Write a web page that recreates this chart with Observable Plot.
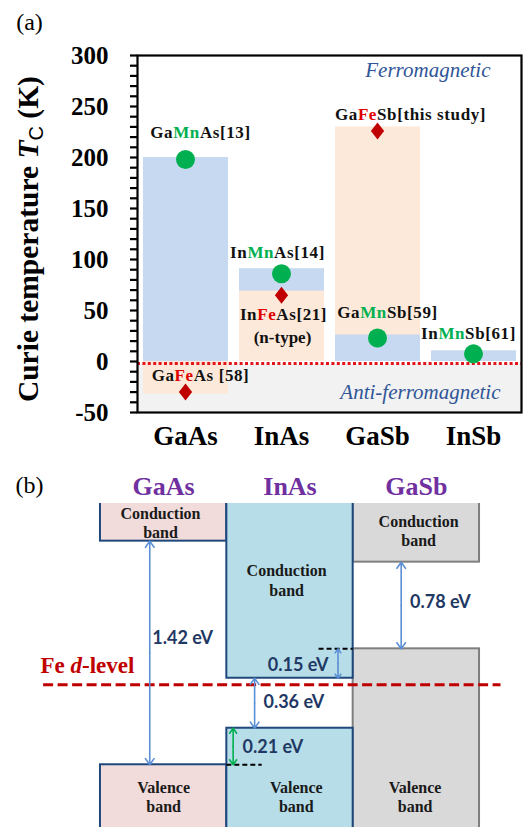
<!DOCTYPE html>
<html><head><meta charset="utf-8">
<script src="https://cdn.jsdelivr.net/npm/d3@7"></script>
<script src="https://cdn.jsdelivr.net/npm/@observablehq/plot@0.6"></script>
<style>
body{margin:0;background:#fff;}
#wrap{position:relative;width:527px;height:827px;overflow:hidden;background:#fff;}
#a,#b{position:absolute;left:0;}
#a{top:0px;} #b{top:470px;}
svg{display:block;}
</style></head><body><div id="wrap"><div id="a"></div><div id="b"></div></div>
<script>
// ---------------- Panel (a) data ----------------
const hosts = ["GaAs", "InAs", "GaSb", "InSb"];
const yTicksMajor = [-50, 0, 50, 100, 150, 200, 250, 300];
const yTicksMinor = [-50,-40,-30,-20,-10,0,10,20,30,40,50,60,70,80,90,100,110,120,130,140,150,160,170,180,190,200,210,220,230,240,250,260,270,280,290,300];

// Mn-doped (blue bars, green circles)
const mnHost = ["GaAs", "InAs", "GaSb", "InSb"];
const mnBarTc = [200, 91, 26, 10.5];
const mnPointTc = [198, 86, 23, 7.5];
// Fe-doped (orange bars, red diamonds)
const feHost = ["GaAs", "InAs", "GaSb"];
const feBarTc = [-32, 69, 230];
const fePointTc = [-30, 65, 226];

// annotations
const labelText = ["GaMnAs[13]", "InMnAs[14]", "GaMnSb[59]", "InMnSb[61]", "GaFeAs [58]", "InFeAs[21]", "(n-type)", "GaFeSb[this study]"];
const labelHost = ["GaAs", "InAs", "GaSb", "InSb", "GaAs", "InAs", "InAs", "GaSb"];
const labelTc   = [224, 107, 48, 27, -14, 46, 23, 242];
const labelDx   = [15, -4, 10, -5, 15, 2, 1, 33];

const afmRange = [-50, -3];     // anti-ferromagnetic shaded region
const boundaryTc = -2;          // red dotted boundary
const yTitleTc = 120;           // vertical centre of the y-axis title

// ---------------- Panel (b) data ----------------
const semis = ["GaAs", "InAs", "GaSb"];
const colStart = [0, 1, 2];
const colEnd = [1, 2, 3];
const cbm = [1.026, 0.047, 0.876];    // conduction band minimum (diagram units, Fe d-level = 0)
const vbm = [-0.571, -0.31, 0.257];   // valence band maximum
const feLevel = 0;
const feSpan = [-0.45, 3.17];

const gapLabel = ["1.42 eV", "0.78 eV", "0.15 eV", "0.36 eV", "0.21 eV"];
const gapX  = [0.39, 2.38, 1.88, 1.22, 1.05];
const gapLo = [-0.571, 0.257, 0.047, -0.31, -0.571];
const gapHi = [1.026, 0.876, 0.257, 0.047, -0.31];
const gapKind = ["blue", "blue", "blue", "blue", "green"];
const gapLabelX = [0.41, 2.45, 1.805, 1.29, 1.124];
const gapLabelY = [0.33, 0.59, 0.138, -0.124, -0.446];
const gapLabelAnchor = ["start", "start", "end", "start", "start"];

const refDashY = [0.257, -0.571];
const refDashX1 = [1.73, 1.0];
const refDashX2 = [2.0, 1.28];

const cbLabelX = [0.475, 1.473, 2.518];
const cbLabelY = [1.159, 0.749, 1.106];
const vbLabelX = [0.5, 1.55, 2.49];
const vbLabelY = [-0.798, -0.798, -0.798];

// ---------------- styles ----------------
const serif = "'Liberation Serif','Times New Roman',serif";
const barFill = {Mn: "#c6d9f0", Fe: "#fde9d9"};
const bandFill = {GaAs: "#f2dcdb", InAs: "#b7dee8", GaSb: "#d9d9d9"};
const bandStroke = {GaAs: "#1f497d", InAs: "#1f497d", GaSb: "#7f7f7f"};
const arrowColor = {blue: "#5b8fd6", green: "#00b050"};

const tallDiamond = {
  draw(ctx, size) {
    const r = Math.sqrt(size / Math.PI), w = r * 0.78;
    ctx.moveTo(0, -r); ctx.lineTo(w, 0); ctx.lineTo(0, r); ctx.lineTo(-w, 0); ctx.closePath();
  }
};

// ---------------- Panel (a) ----------------
const bars = [
  ...mnHost.map((h, i) => ({host: h, tc: mnBarTc[i], kind: "Mn"})),
  ...feHost.map((h, i) => ({host: h, tc: feBarTc[i], kind: "Fe"}))
].sort((a, b) => Math.abs(b.tc) - Math.abs(a.tc));
const mnPts = mnHost.map((h, i) => ({host: h, tc: mnPointTc[i]}));
const fePts = feHost.map((h, i) => ({host: h, tc: fePointTc[i]}));
const labels = labelText.map((t, i) => ({text: t, host: labelHost[i], tc: labelTc[i], dx: labelDx[i]}));

const plotA = Plot.plot({
  width: 527, height: 460,
  marginTop: 55, marginBottom: 48, marginLeft: 137, marginRight: 6,
  x: {type: "band", domain: hosts, padding: 0, axis: null},
  y: {domain: [-50, 300], axis: null},
  style: {fontFamily: serif, background: "white", overflow: "visible"},
  marks: [
    Plot.rect([afmRange], {y1: d => d[0], y2: d => d[1], fill: "#f2f2f2"}),
    Plot.rectY(bars, {x: "host", y1: 0, y2: "tc", fill: d => barFill[d.kind], insetLeft: 6, insetRight: 5}),
    Plot.ruleY([boundaryTc], {stroke: "#e3151a", strokeWidth: 3, strokeDasharray: "3,2.4"}),
    Plot.dot(mnPts, {x: "host", y: "tc", r: 9.5, fill: "#00b050", stroke: "none"}),
    Plot.dot(fePts, {x: "host", y: "tc", r: 8.5, symbol: tallDiamond, fill: "#c00000", stroke: "none"}),
    ...labels.map(l => Plot.text([l], {x: "host", y: "tc", text: "text", dx: l.dx, fontSize: 17, fontWeight: "bold", fill: "#111"})),
    Plot.text(["Ferromagnetic"], {frameAnchor: "top-right", textAnchor: "end", lineAnchor: "middle", dx: -31, dy: 15, fontSize: 21, fontStyle: "italic", fill: "#2f5597"}),
    Plot.text(["Anti-ferromagnetic"], {frameAnchor: "bottom-right", textAnchor: "end", lineAnchor: "middle", dx: -21, dy: -20, fontSize: 21, fontStyle: "italic", fill: "#2f5597"}),
    Plot.frame({stroke: "black", strokeWidth: 2.2}),
    Plot.axisY({ticks: yTicksMinor, tickSize: 7, tickFormat: () => "", label: null, strokeWidth: 2.2, stroke: "black"}),
    Plot.text(yTicksMajor, {y: d => d, text: d => String(d), frameAnchor: "left", textAnchor: "end", dx: -29, fontSize: 25, fontWeight: "bold", fill: "black"}),
    Plot.text(hosts, {x: d => d, text: d => d, frameAnchor: "bottom", lineAnchor: "middle", dy: 24, fontSize: 27, fontWeight: "bold", fill: "black"}),
    Plot.text(["Curie temperature TC (K)"], {y: yTitleTc, frameAnchor: "left", textAnchor: "middle", lineAnchor: "middle", rotate: -90, dx: -109, fontSize: 29.5, fontWeight: "bold", fill: "black"}),
    Plot.text(["(a)"], {frameAnchor: "top-left", textAnchor: "middle", lineAnchor: "middle", dx: 29 - 137, dy: 22 - 55, fontSize: 24, fill: "black"})
  ]
});
document.getElementById("a").appendChild(plotA);

// ---------------- Panel (b) ----------------
const cbRects = semis.map((s, i) => ({s, x1: colStart[i], x2: colEnd[i], y1: cbm[i], y2: 2}));
const vbRects = semis.map((s, i) => ({s, x1: colStart[i], x2: colEnd[i], y1: -2, y2: vbm[i]}));
const order = ["GaAs", "GaSb", "InAs"];
const rectsOrdered = order.flatMap(s => [cbRects.find(d => d.s === s), vbRects.find(d => d.s === s)]);
const gaps = gapLabel.map((t, i) => ({t, x: gapX[i], lo: gapLo[i], hi: gapHi[i], mid: (gapLo[i] + gapHi[i]) / 2, kind: gapKind[i], lx: gapLabelX[i], ly: gapLabelY[i], anchor: gapLabelAnchor[i]}));
const dashes = refDashY.map((y, i) => ({y, x1: refDashX1[i], x2: refDashX2[i]}));

const plotB = Plot.plot({
  width: 527, height: 357,
  marginTop: 33, marginBottom: 0, marginLeft: 74.7, marginRight: 22.7,
  x: {domain: [-0.2, 3.2], axis: null},
  y: {domain: [-1.019, 1.295], axis: null},
  style: {fontFamily: serif, background: "white", overflow: "visible"},
  marks: [
    Plot.rect(rectsOrdered, {x1: "x1", x2: "x2", y1: "y1", y2: "y2", fill: d => bandFill[d.s], stroke: d => bandStroke[d.s], strokeWidth: 2, clip: true}),
    Plot.ruleY([feLevel], {x1: feSpan[0], x2: feSpan[1], stroke: "#c00000", strokeWidth: 3, strokeDasharray: "10,4.5"}),
    Plot.ruleY(dashes, {y: "y", x1: "x1", x2: "x2", stroke: "black", strokeWidth: 2, strokeDasharray: "5,3"}),
    Plot.arrow(gaps, {x1: "x", x2: "x", y1: "mid", y2: "hi", stroke: d => arrowColor[d.kind], strokeWidth: 1.6, headLength: 7, headAngle: 70}),
    Plot.arrow(gaps, {x1: "x", x2: "x", y1: "mid", y2: "lo", stroke: d => arrowColor[d.kind], strokeWidth: 1.6, headLength: 7, headAngle: 70}),
    ...gaps.map(g => Plot.text([g], {x: "lx", y: "ly", text: "t", textAnchor: g.anchor, fontFamily: "Lato, 'Open Sans', sans-serif", fontWeight: "bold", fontSize: 18, fill: "#1f3864"})),
    Plot.text(semis, {x: (d, i) => colStart[i] + 0.5, text: d => d, frameAnchor: "top", lineAnchor: "middle", dy: -17, fontSize: 26, fontWeight: "bold", fill: "#7030a0"}),
    Plot.text(semis, {x: (d, i) => cbLabelX[i], y: (d, i) => cbLabelY[i], text: () => "Conduction\nband", lineHeight: 1.2, fontSize: 16, fontWeight: "bold", fill: "#1a1a1a"}),
    Plot.text(semis, {x: (d, i) => vbLabelX[i], y: (d, i) => vbLabelY[i], text: () => "Valence\nband", lineHeight: 1.2, fontSize: 16, fontWeight: "bold", fill: "#1a1a1a"}),
    Plot.text(["Fe d-level"], {x: -0.475, y: 0.137, textAnchor: "start", fontSize: 23, fontWeight: "bold", fill: "#c00000"}),
    Plot.text(["(b)"], {frameAnchor: "top-left", textAnchor: "middle", lineAnchor: "middle", dx: 29 - 74.7, dy: 15 - 33, fontSize: 24, fill: "black"})
  ]
});
document.getElementById("b").appendChild(plotB);

// ---------------- rich-text touch-ups ----------------
function richText(svg) {
  d3.select(svg).selectAll("text").each(function() {
    if (this.querySelector("tspan")) return;
    const t = this.textContent;
    const el = d3.select(this);
    let m = t.match(/^(Ga|In)(Mn|Fe)(.*)$/);
    if (m) {
      el.text("").attr("letter-spacing", 0.6);
      el.append("tspan").text(m[1]);
      el.append("tspan").attr("fill", m[2] === "Mn" ? "#00b050" : "#e00000").text(m[2]);
      el.append("tspan").text(m[3]);
      return;
    }
    if (t === "Curie temperature TC (K)") {
      el.text("");
      el.append("tspan").text("Curie temperature ");
      el.append("tspan").attr("font-style", "italic").text("T");
      el.append("tspan").attr("font-size", 20).attr("font-weight", "normal").attr("font-family", "'Liberation Sans',Arial,sans-serif").attr("dy", 5).text("C");
      el.append("tspan").attr("dy", -5).text(" (K)");
      return;
    }
    if (t === "Fe d-level") {
      el.text("");
      el.append("tspan").text("Fe ");
      el.append("tspan").attr("font-style", "italic").text("d");
      el.append("tspan").text("-level");
    }
  });
}
richText(plotA);
richText(plotB);
</script></body></html>
